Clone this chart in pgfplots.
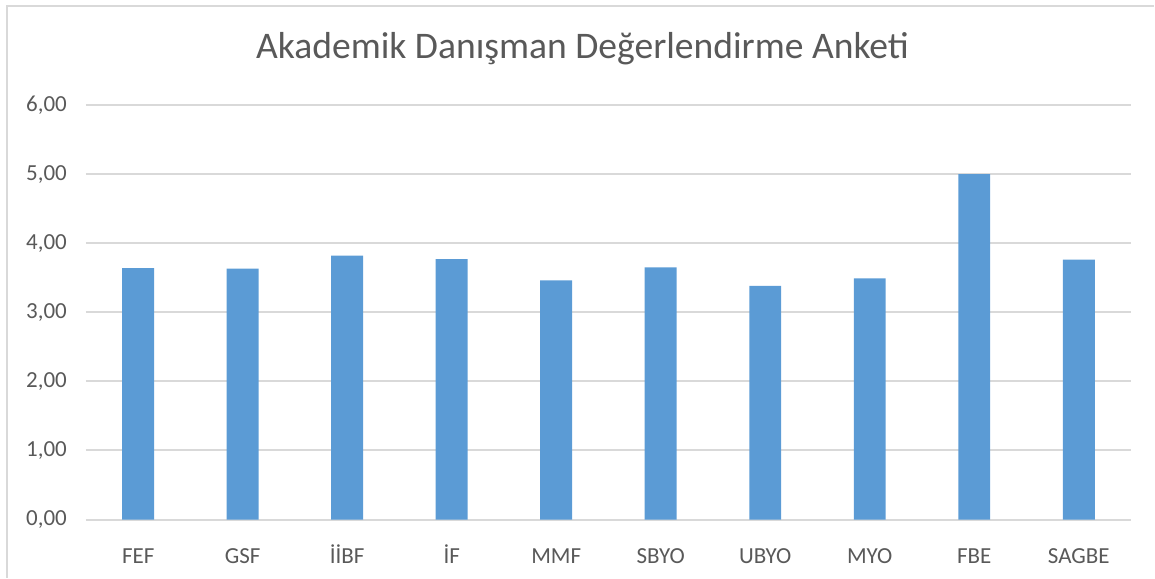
\documentclass[border=0pt]{standalone}
\usepackage{fontspec}
\setmainfont{Carlito}
\usepackage{pgfplots}
\pgfplotsset{compat=1.18}
\definecolor{barblue}{HTML}{5B9BD5}
\definecolor{gridgray}{HTML}{D9D9D9}
\definecolor{txtgray}{HTML}{595959}
\definecolor{framegray}{HTML}{D9D9D9}
\begin{document}
\begin{tikzpicture}
 \path (0,0) rectangle (577.5pt,289pt);
 \draw[framegray,line width=1pt] (3.5pt,0) -- (3.5pt,286pt) -- (577.5pt,286pt);
 \begin{axis}[at={(43pt,29pt)},anchor=south west,scale only axis,
  width=523pt,height=207.5pt,
  ybar,bar width=16pt,
  xmin=-0.5,xmax=9.5,ymin=0,ymax=6,
  xtick=data,xticklabels={FEF,GSF,İİBF,İF,MMF,SBYO,UBYO,MYO,FBE,SAGBE},
  ytick={0,1,2,3,4,5,6},
  ymajorgrids,grid style={gridgray,line width=1pt},
  axis line style={draw=none},tick style={draw=none},
  ticklabel style={font=\fontsize{11.5}{13}\selectfont,text=txtgray},
  yticklabel style={xshift=-6pt},
  xticklabel style={anchor=base,yshift=-17.5pt},
  /pgf/number format/.cd,fixed,fixed zerofill,precision=2,use comma,assume math mode=true]
  \addplot[fill=barblue,draw=none] coordinates {
   (0,3.64) (1,3.63) (2,3.82) (3,3.77) (4,3.46)
   (5,3.65) (6,3.38) (7,3.49) (8,5.00) (9,3.76)};
 \end{axis}
 \node[text=txtgray,font=\fontsize{18.8}{21}\selectfont,anchor=base] at (291.5pt,259.5pt) {Akademik Danışman Değerlendirme Anketi};
\end{tikzpicture}
\end{document}
